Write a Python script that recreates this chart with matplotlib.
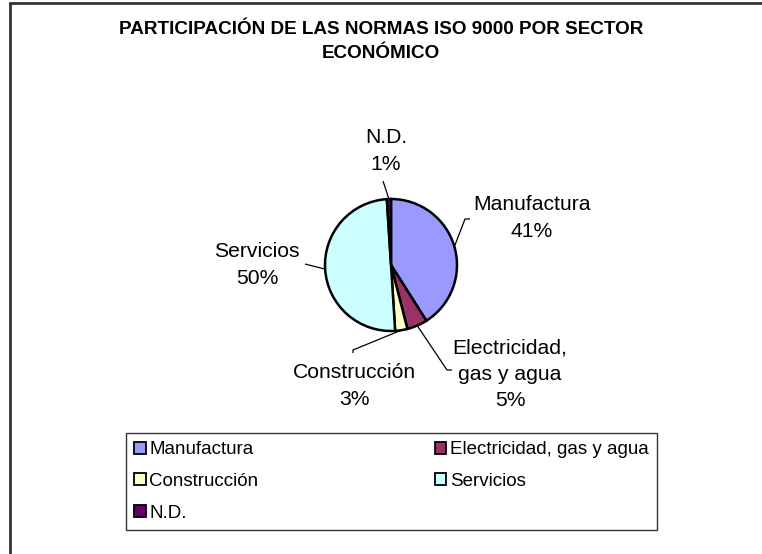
import numpy as np
import matplotlib
matplotlib.use("Agg")
import matplotlib.pyplot as plt
from matplotlib.patches import Patch, Rectangle

plt.rcParams['font.family'] = ['Liberation Sans', 'DejaVu Sans']

categories = ["Manufactura", "Electricidad, gas y agua", "Construcción", "Servicios", "N.D."]
values = [41, 5, 3, 50, 1]
label_texts = ["Manufactura\n41%", "Electricidad,\ngas y agua\n5%", "Construcción\n3%", "Servicios\n50%", "N.D.\n1%"]
colors = ["#9999FF", "#993366", "#FFFFCC", "#CCFFFF", "#660066"]
title = "PARTICIPACIÓN DE LAS NORMAS ISO 9000 POR SECTOR\nECONÓMICO"

W, H = 762, 554
fig = plt.figure(figsize=(W / 100, H / 100), dpi=100)

# pixel geometry of the pie
cx, cy, R = 391, 265, 66

ax = fig.add_axes([0, 0, 1, 1])

def p2d(px, py):
    return ((px - cx) / R, (cy - py) / R)

wedges, _ = ax.pie(values, colors=colors, startangle=90, counterclock=False,
                   radius=1.0, center=(0, 0),
                   wedgeprops=dict(edgecolor='black', linewidth=1.8))
ax.set_aspect('equal')
ax.set_xlim(-cx / R, (W - cx) / R)
ax.set_ylim(-(H - cy) / R, cy / R)
ax.axis('off')

# label centers (pixels) and leader bends
label_pos = [(532, 218), (510, 374), (354, 386), (257, 265), (386, 151)]
leader = [
    [(465, 219), (470, 219)],
    [(447, 370), (452, 370)],
    [(353, 350), (353, 353)],
    [(305, 264)],
    [(383, 181)],
]

for w, lab, pos, ld in zip(wedges, label_texts, label_pos, leader):
    ang = np.deg2rad((w.theta1 + w.theta2) / 2)
    ex, ey = np.cos(ang), np.sin(ang)
    pts = [(ex, ey)] + [p2d(*p) for p in ld]
    xs, ys = zip(*pts)
    ax.plot(xs, ys, color='black', lw=0.9, solid_capstyle='butt')
    tx, ty = p2d(*pos)
    ax.text(tx, ty, lab, ha='center', va='center', fontsize=15.2,
            linespacing=1.5)

fig.text(381 / W, 1 - 41.5 / H, title, ha='center', va='center',
         fontsize=13.6, fontweight='bold', linespacing=1.5)

# legend (row-wise order with 2 columns)
handles = [Patch(facecolor=c, edgecolor='black', linewidth=1.3) for c in colors]
order = [0, 2, 4, 1, 3]
leg = fig.legend([handles[i] for i in order], [categories[i] for i in order],
                 ncol=2, loc='center', bbox_to_anchor=(391.5 / W, 1 - 481.5 / H),
                 fontsize=13.5, frameon=True, fancybox=False, edgecolor='black',
                 handlelength=0.6, handleheight=0.6, handletextpad=0.2,
                 columnspacing=9.4, labelspacing=0.78, borderpad=0.45,
                 borderaxespad=0)
leg.get_frame().set_linewidth(1.0)

# outer chart frame (left and top edges visible)
fig.add_artist(Rectangle((10 / W, -0.1), 1.2, (H - 3) / H + 0.1,
                         transform=fig.transFigure, fill=False,
                         edgecolor='#333333', linewidth=2.0))

fig.savefig("out.png", dpi=100)
